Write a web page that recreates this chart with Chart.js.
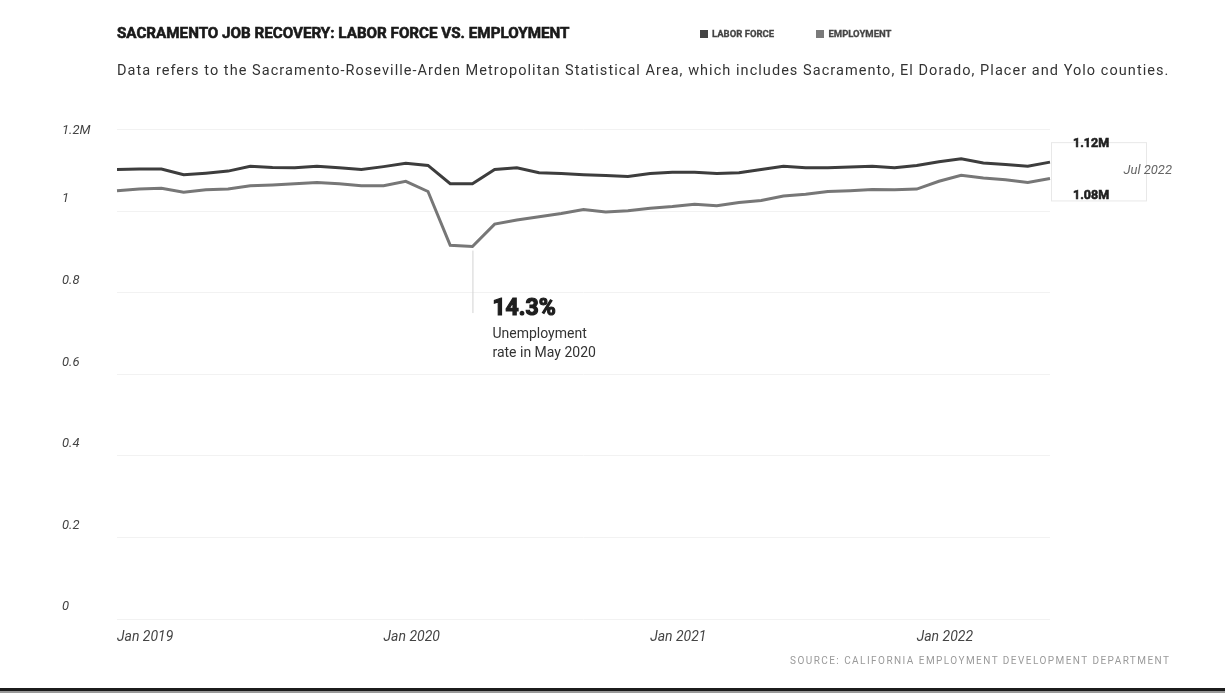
<!DOCTYPE html>
<html>
<head>
<meta charset="utf-8">
<script src="https://cdn.jsdelivr.net/npm/chart.js@4.4.0/dist/chart.umd.min.js"></script>
<style>
  html, body { margin: 0; padding: 0; background: #fff; }
  body { width: 1225px; height: 698px; position: relative; overflow: hidden; font-family: Roboto, "Noto Sans", sans-serif; }
  #chart { position: absolute; left: 0; top: 0; }
  .title { position: absolute; left: 117px; top: 24px; font-weight: 700; font-size: 15.2px; color: #1a1a1a; -webkit-text-stroke: 0.6px #1a1a1a; white-space: nowrap; }
  .legend { position: absolute; left: 700px; top: 28px; font-size: 9.5px; font-weight: 700; color: #444; -webkit-text-stroke: 0.3px #444; white-space: nowrap; }
  .legend .sw { display: inline-block; width: 8px; height: 8px; margin-right: 4px; vertical-align: -1px; }
  .legend .item { margin-right: 40px; }
  .subtitle { position: absolute; left: 117px; top: 62px; font-size: 14.5px; letter-spacing: 1.05px; color: #333; white-space: nowrap; }
  .source { position: absolute; left: 790px; top: 655px; font-size: 10px; letter-spacing: 1.45px; color: #9a9a9a; white-space: nowrap; }
  .rule { position: absolute; left: 0; top: 688px; width: 1225px; height: 3px; background: #1c1c1c; border-bottom: 2px solid #999; }
</style>
</head>
<body>
<canvas id="chart" width="1225" height="698"></canvas>
<div class="title">SACRAMENTO JOB RECOVERY: LABOR FORCE VS. EMPLOYMENT</div>
<div class="legend">
  <span class="item"><span class="sw" style="background:#444"></span>LABOR FORCE</span>
  <span class="item"><span class="sw" style="background:#7a7a7a"></span>EMPLOYMENT</span>
</div>
<div class="subtitle">Data refers to the Sacramento-Roseville-Arden Metropolitan Statistical Area, which includes Sacramento, El Dorado, Placer and Yolo counties.</div>
<div class="source">SOURCE: CALIFORNIA EMPLOYMENT DEVELOPMENT DEPARTMENT</div>
<div class="rule"></div>
<script>
// monthly, Jan 2019 - Jul 2022, values in millions
const months = [
  'Jan 2019', 'Feb 2019', 'Mar 2019', 'Apr 2019', 'May 2019', 'Jun 2019', 'Jul 2019', 'Aug 2019', 'Sep 2019', 'Oct 2019', 'Nov 2019', 'Dec 2019',
  'Jan 2020', 'Feb 2020', 'Mar 2020', 'Apr 2020', 'May 2020', 'Jun 2020', 'Jul 2020', 'Aug 2020', 'Sep 2020', 'Oct 2020', 'Nov 2020', 'Dec 2020',
  'Jan 2021', 'Feb 2021', 'Mar 2021', 'Apr 2021', 'May 2021', 'Jun 2021', 'Jul 2021', 'Aug 2021', 'Sep 2021', 'Oct 2021', 'Nov 2021', 'Dec 2021',
  'Jan 2022', 'Feb 2022', 'Mar 2022', 'Apr 2022', 'May 2022', 'Jun 2022', 'Jul 2022'
];

const laborForce = [
  1.102, 1.103, 1.103, 1.089, 1.093, 1.098, 1.110, 1.107, 1.106, 1.110, 1.106, 1.102,
  1.109, 1.117, 1.112, 1.067, 1.067, 1.102, 1.106, 1.094, 1.092, 1.089, 1.087, 1.085,
  1.092, 1.095, 1.095, 1.092, 1.094, 1.102, 1.110, 1.106, 1.106, 1.108, 1.110, 1.106,
  1.112, 1.121, 1.128, 1.118, 1.114, 1.110, 1.120
];

const employment = [
  1.050, 1.054, 1.056, 1.046, 1.052, 1.054, 1.062, 1.064, 1.067, 1.070, 1.067, 1.062,
  1.062, 1.073, 1.048, 0.916, 0.913, 0.968, 0.978, 0.986, 0.994, 1.004, 0.998, 1.001,
  1.007, 1.011, 1.017, 1.013, 1.021, 1.026, 1.037, 1.041, 1.048, 1.050, 1.053, 1.052,
  1.054, 1.073, 1.088, 1.081, 1.077, 1.070, 1.080
];

const xTickLabels = ['Jan 2019', 'Jan 2020', 'Jan 2021', 'Jan 2022'];
const yTicks = [0, 0.2, 0.4, 0.6, 0.8, 1, 1.2];
const yTickLabels = ['0', '0.2', '0.4', '0.6', '0.8', '1', '1.2M'];

const callout = { index: 16, rate: '14.3%', lines: ['Unemployment', 'rate in May 2020'], lineTo: 0.75 };
const endLabels = { lf: '1.12M', emp: '1.08M', month: 'Jul 2022' };

function boldText(ctx, text, x, y, w) {
  ctx.lineWidth = w;
  ctx.strokeStyle = ctx.fillStyle;
  ctx.strokeText(text, x, y);
  ctx.fillText(text, x, y);
}

const annotations = {
  id: 'annotations',
  afterDatasetsDraw(chart) {
    const ctx = chart.ctx;
    const xs = chart.scales.x, ys = chart.scales.y;
    ctx.save();

    // y labels sit above their grid lines, the top one just under it
    ctx.fillStyle = '#444';
    ctx.font = 'italic 13px Roboto';
    ctx.textAlign = 'left';
    ctx.textBaseline = 'middle';
    yTicks.forEach((v, i) => {
      let y = ys.getPixelForValue(v);
      let off = i === yTicks.length - 1 ? 1 : -12;
      ctx.fillText(yTickLabels[i], 62, y + off);
    });

    // May 2020 callout
    let cx = xs.getPixelForValue(callout.index);
    let cy = ys.getPixelForValue(employment[callout.index]);
    let by = ys.getPixelForValue(callout.lineTo);
    ctx.strokeStyle = '#d2d2d2';
    ctx.lineWidth = 1;
    ctx.beginPath();
    ctx.moveTo(cx + 0.5, cy + 4);
    ctx.lineTo(cx + 0.5, by);
    ctx.stroke();
    ctx.fillStyle = '#1e1e1e';
    ctx.font = '700 23px Roboto';
    boldText(ctx, callout.rate, cx + 20, by - 4, 1.2);
    ctx.fillStyle = '#333';
    ctx.font = '14px Roboto';
    ctx.fillText(callout.lines[0], cx + 20, by + 21);
    ctx.fillText(callout.lines[1], cx + 20, by + 40);

    // end labels
    let last = months.length - 1;
    let ex = xs.getPixelForValue(last);
    let ly = ys.getPixelForValue(laborForce[last]);
    let ey = ys.getPixelForValue(employment[last]);
    ctx.fillStyle = '#fff';
    ctx.fillRect(ex + 1, ly - 20, 95, ey - ly + 43);
    ctx.strokeStyle = '#e8e8e8';
    ctx.lineWidth = 1;
    ctx.strokeRect(ex + 1.5, ly - 19.5, 95, ey - ly + 42);
    ctx.fillStyle = '#1e1e1e';
    ctx.font = '700 12.5px Roboto';
    boldText(ctx, endLabels.lf, ex + 23, ly - 18, 0.6);
    boldText(ctx, endLabels.emp, ex + 23, ey + 17, 0.6);
    ctx.fillStyle = '#666';
    ctx.font = 'italic 13px Roboto';
    ctx.textAlign = 'right';
    ctx.fillText(endLabels.month, ex + 122, (ly + ey) / 2);
    ctx.restore();
  }
};

const chart = new Chart(document.getElementById('chart'), {
  type: 'line',
  data: {
    labels: months,
    datasets: [{
      label: 'Labor force',
      data: laborForce,
      borderColor: '#3d3d3d',
      borderWidth: 3,
      pointRadius: 0,
      tension: 0
    }, {
      label: 'Employment',
      data: employment,
      borderColor: '#777777',
      borderWidth: 3,
      pointRadius: 0,
      tension: 0
    }]
  },
  options: {
    responsive: false,
    animation: false,
    layout: { padding: { left: 62, right: 175, top: 129.5, bottom: 35 } },
    plugins: { legend: { display: false }, tooltip: { enabled: false } },
    scales: {
      x: {
        grid: { display: false },
        border: { display: false },
        afterFit: s => { s.height = 44; },
        ticks: {
          autoSkip: false,
          maxRotation: 0,
          align: 'start',
          padding: 2,
          color: '#444',
          font: { family: 'Roboto', style: 'italic', size: 14 },
          callback: (v, i) => xTickLabels.includes(months[i]) ? months[i] : ''
        }
      },
      y: {
        min: 0,
        max: 1.2,
        afterFit: s => { s.width = 55; },
        afterBuildTicks: s => { s.ticks = yTicks.map(v => ({ value: v })); },
        grid: { color: '#f2f2f2', drawTicks: false },
        border: { display: false },
        ticks: { display: false }
      }
    }
  },
  plugins: [annotations]
});
</script>
</body>
</html>
